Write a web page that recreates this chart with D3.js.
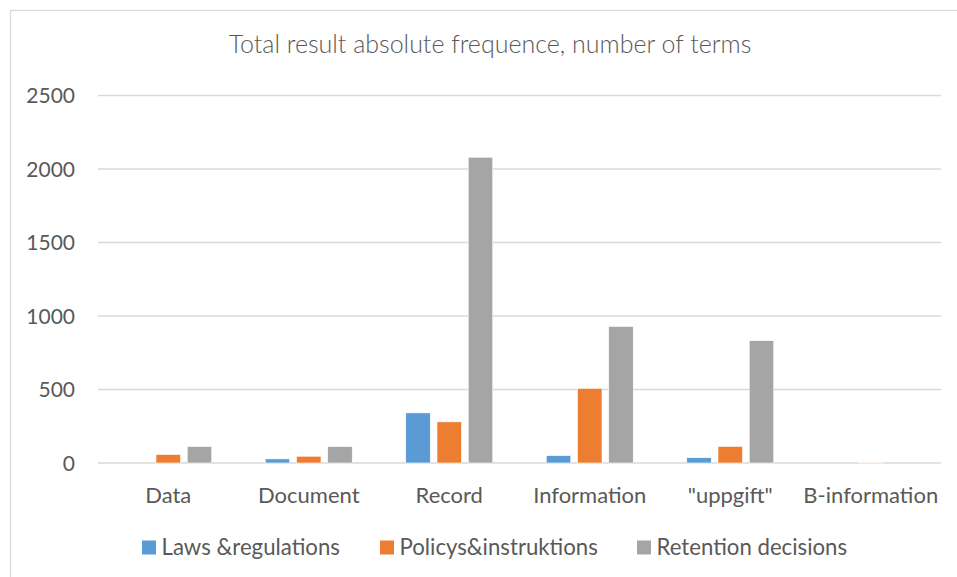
<!DOCTYPE html>
<html>
<head>
<meta charset="utf-8">
<script src="https://cdn.jsdelivr.net/npm/d3@7"></script>
<style>
  html, body { margin: 0; padding: 0; background: #fff; }
  svg { display: block; }
  text { font-family: Lato, "Open Sans", sans-serif; fill: #595959; }
</style>
</head>
<body>
<svg id="chart" width="957" height="577"></svg>
<script>
const title = "Total result absolute frequence, number of terms";
const categories = ["Data", "Document", "Record", "Information", "\"uppgift\"", "B-information"];
const seriesNames = ["Laws &regulations", "Policys&instruktions", "Retention decisions"];
const lawsValues = [0, 28, 341, 50, 36, 0];
const policyValues = [58, 46, 280, 508, 113, 5];
const retentionValues = [112, 112, 2080, 929, 832, 0];
const yTicks = [0, 500, 1000, 1500, 2000, 2500];
const colors = ["#5B9BD5", "#ED7D31", "#A5A5A5"];

const seriesValues = [lawsValues, policyValues, retentionValues];
const svg = d3.select("#chart");

// outer chart frame (extends past the picture's right and bottom edges)
svg.append("rect")
  .attr("x", 10.5).attr("y", 10.5)
  .attr("width", 1000).attr("height", 1000)
  .attr("fill", "#fff").attr("stroke", "#D9D9D9").attr("stroke-width", 1.3);

const x = d3.scaleBand().domain(categories).range([98, 941]).paddingInner(0).paddingOuter(0);
const xs = d3.scaleBand().domain(seriesNames).range([-43.5, 43.5]).paddingInner(0.215);
const y = d3.scaleLinear().domain([0, 2500]).range([463, 95.5]);

// title
svg.append("text")
  .attr("x", 490).attr("y", 53)
  .attr("text-anchor", "middle")
  .attr("font-size", 25).attr("font-weight", 300)
  .text(title);

// gridlines
const grid = svg.append("g");
grid.selectAll("line").data(yTicks).join("line")
  .attr("x1", x.range()[0]).attr("x2", x.range()[1])
  .attr("y1", d => y(d)).attr("y2", d => y(d))
  .attr("stroke", "#D9D9D9").attr("stroke-width", 1.3);

// y axis labels
const yAxis = d3.axisLeft(y).tickValues(yTicks).tickSize(0).tickPadding(0).tickFormat(d3.format("d"));
const yG = svg.append("g").attr("transform", "translate(75,0)").call(yAxis);
yG.select(".domain").remove();
yG.selectAll("text").attr("font-size", 21).attr("fill", "#595959").attr("dy", "0.35em")
  .style("font-family", "Lato, 'Open Sans', sans-serif");

// bars
const groups = svg.append("g").selectAll("g").data(seriesNames).join("g")
  .attr("fill", (d, i) => colors[i]);
groups.selectAll("rect")
  .data((s, i) => categories.map((c, j) => ({ c, s, v: seriesValues[i][j] })))
  .join("rect")
  .attr("x", d => x(d.c) + x.bandwidth() / 2 + xs(d.s))
  .attr("width", xs.bandwidth())
  .attr("y", d => y(d.v))
  .attr("height", d => y(0) - y(d.v))
  .attr("stroke", "#fff").attr("stroke-width", 0.6);

// x axis labels
const xAxis = d3.axisBottom(x).tickSize(0).tickPadding(0);
const xG = svg.append("g").attr("transform", "translate(0,503)").call(xAxis);
xG.select(".domain").remove();
xG.selectAll("text").attr("font-size", 22).attr("fill", "#595959").attr("dy", 0)
  .style("font-family", "Lato, 'Open Sans', sans-serif");

// legend
const legendX = [142, 380, 637];
const lg = svg.append("g").selectAll("g").data(seriesNames).join("g")
  .attr("transform", (d, i) => `translate(${legendX[i]},555)`);
lg.append("rect").attr("x", 0).attr("y", -14.5).attr("width", 14).attr("height", 14)
  .attr("fill", (d, i) => colors[i]);
lg.append("text").attr("x", 19.5).attr("y", 0).attr("font-size", 22.2).text(d => d);
</script>
</body>
</html>
